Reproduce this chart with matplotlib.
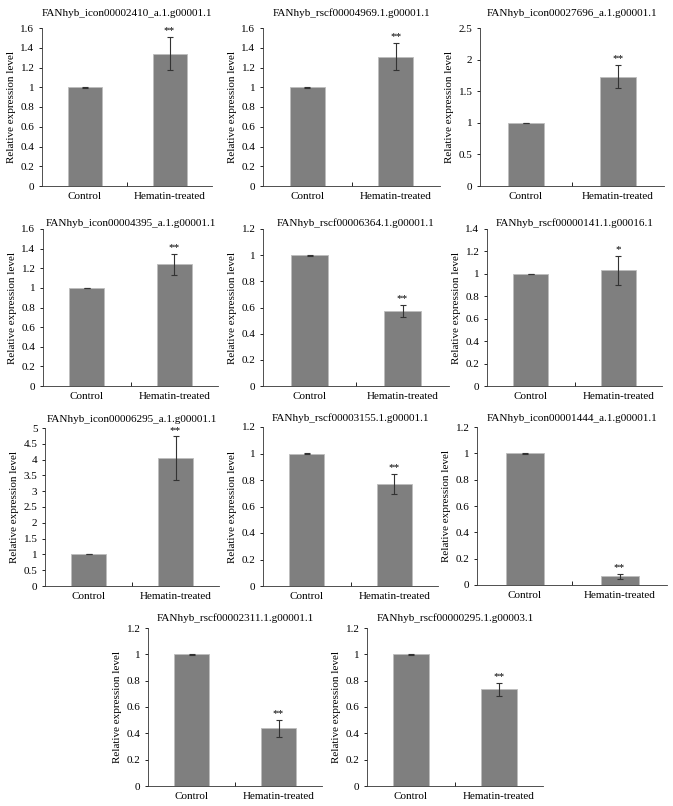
import matplotlib
matplotlib.use('Agg')
import matplotlib.pyplot as plt
from matplotlib.ticker import FuncFormatter
import numpy as np

plt.rcParams['font.family'] = ['Liberation Serif', 'DejaVu Serif']
plt.rcParams['font.size'] = 8

# --- data ---
titles = [
    'FANhyb_icon00002410_a.1.g00001.1',
    'FANhyb_rscf00004969.1.g00001.1',
    'FANhyb_icon00027696_a.1.g00001.1',
    'FANhyb_icon00004395_a.1.g00001.1',
    'FANhyb_rscf00006364.1.g00001.1',
    'FANhyb_rscf00000141.1.g00016.1',
    'FANhyb_icon00006295_a.1.g00001.1',
    'FANhyb_rscf00003155.1.g00001.1',
    'FANhyb_icon00001444_a.1.g00001.1',
    'FANhyb_rscf00002311.1.g00001.1',
    'FANhyb_rscf00000295.1.g00003.1',
]
groups = ['Control', 'Hematin-treated']
control_mean = [1, 1, 1, 1, 1, 1, 1, 1, 1, 1, 1]
control_err = [0.003] * 11
treated_mean = [1.34, 1.31, 1.73, 1.24, 0.575, 1.03, 4.05, 0.77, 0.065, 0.44, 0.735]
treated_err = [0.17, 0.14, 0.185, 0.105, 0.045, 0.13, 0.69, 0.075, 0.02, 0.065, 0.05]
stars = ['**', '**', '**', '**', '**', '*', '**', '**', '**', '**', '**']
y_max = [1.6, 1.6, 2.5, 1.6, 1.2, 1.4, 5, 1.2, 1.2, 1.2, 1.2]
y_step = [0.2, 0.2, 0.5, 0.2, 0.2, 0.2, 0.5, 0.2, 0.2, 0.2, 0.2]

# --- layout (pixel boxes: left, right, top, bottom) ---
W, H = 673, 806
boxes = [
    (42, 212, 28, 186), (263, 440, 28, 186), (480, 664, 28, 186),
    (43, 218, 229, 386), (263, 449, 229, 386), (487, 662, 229, 386),
    (45, 219, 428, 586), (263, 438, 427, 586), (477, 667, 427, 585),
    (148, 322, 628, 786), (367, 543, 628, 786),
]
title_pad = [9, 9, 9, 2, 2, 2, 4, 4, 4, 5, 5]

fig = plt.figure(figsize=(W / 100, H / 100), dpi=100)

fmt = FuncFormatter(lambda v, p: f'{v:g}')

for i in range(len(titles)):
    l, r, t, b = boxes[i]
    ax = fig.add_axes([l / W, 1 - b / H, (r - l) / W, (b - t) / H])
    x = np.arange(2)
    ax.bar(x, [control_mean[i], treated_mean[i]], width=0.4,
           color='#7f7f7f', edgecolor='#bdbdbd', linewidth=0.6, zorder=2)
    ax.errorbar(x, [control_mean[i], treated_mean[i]],
                yerr=[control_err[i], treated_err[i]], fmt='none',
                ecolor='#333333', elinewidth=0.8, capsize=2, capthick=0.8, zorder=3)
    top = treated_mean[i] + treated_err[i]
    ax.text(1, top + y_max[i] * 0.01, stars[i], ha='center', va='bottom', fontsize=8)

    ax.set_xlim(-0.5, 1.5)
    ax.set_ylim(0, y_max[i])
    ax.set_yticks(np.arange(0, y_max[i] + y_step[i] / 2, y_step[i]))
    ax.yaxis.set_major_formatter(fmt)
    ax.set_xticks(x)
    ax.set_xticklabels(groups)
    ax.set_xticks([0.5], minor=True)
    ax.tick_params(axis='x', which='major', length=0, pad=4)
    ax.tick_params(axis='x', which='minor', length=3, direction='in', width=0.6)
    ax.tick_params(axis='y', length=2.5, width=0.6, pad=3)
    for s in ['top', 'right']:
        ax.spines[s].set_visible(False)
    for s in ['left', 'bottom']:
        ax.spines[s].set_linewidth(0.6)
        ax.spines[s].set_color('#333333')
    ax.set_ylabel('Relative expression level', fontsize=8, labelpad=3)
    ax.set_title(titles[i], fontsize=8, pad=title_pad[i])

plt.savefig('out.png', dpi=100)
